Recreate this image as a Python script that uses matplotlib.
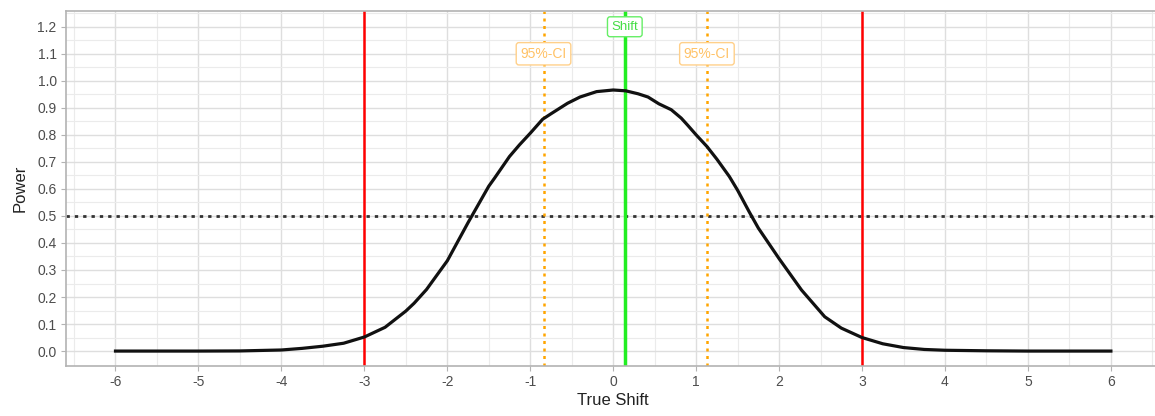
import matplotlib
matplotlib.use("Agg")
import matplotlib.pyplot as plt
import numpy as np

plt.rcParams['font.family'] = ['Liberation Sans', 'DejaVu Sans']
plt.rcParams['axes.unicode_minus'] = False

# power curve
true_shift = [-6.0, -5.5, -5.0, -4.5, -4.0, -3.75, -3.5, -3.25, -3.0, -2.75, -2.5, -2.4,
              -2.25, -2.0, -1.75, -1.5, -1.43, -1.25, -1.13, -1.0, -0.85, -0.75, -0.55,
              -0.4, -0.2, 0.0, 0.15, 0.3, 0.42, 0.55, 0.7, 0.82, 0.9, 1.0, 1.13, 1.25,
              1.4, 1.5, 1.64, 1.75, 2.0, 2.27, 2.55, 2.75, 3.0, 3.25, 3.5, 3.75, 4.0,
              4.5, 5.0, 5.5, 6.0]
power = [0.0, 0.0, 0.0, 0.0005, 0.004, 0.01, 0.018, 0.029, 0.052, 0.088, 0.148, 0.177,
         0.228, 0.334, 0.475, 0.61, 0.64, 0.72, 0.763, 0.806, 0.858, 0.878, 0.917,
         0.94, 0.96, 0.966, 0.963, 0.952, 0.94, 0.915, 0.893, 0.862, 0.835, 0.80, 0.757,
         0.71, 0.646, 0.595, 0.515, 0.455, 0.342, 0.226, 0.127, 0.085, 0.05, 0.027, 0.013,
         0.006, 0.003, 0.001, 0.0, 0.0, 0.0]

margin = [-3, 3]
shift = 0.14
ci = [-0.84, 1.13]
power_level = 0.5
x_ticks = list(range(-6, 7))
y_ticks = [0.0, 0.1, 0.2, 0.3, 0.4, 0.5, 0.6, 0.7, 0.8, 0.9, 1.0, 1.1, 1.2]

fig = plt.figure(figsize=(11.55, 4.16), dpi=100)
ax = fig.add_axes([0.0569, 0.121, 0.948, 0.853])

ax.set_xlim(-6.6, 6.6)
ax.set_ylim(-0.054, 1.259)
ax.set_xticks(x_ticks)
ax.set_xticks(np.arange(-6.5, 6.6, 1.0), minor=True)
ax.set_yticks(y_ticks)
ax.set_yticks(np.arange(0.05, 1.26, 0.1), minor=True)
ax.set_yticklabels([f"{v:.1f}" for v in y_ticks])
ax.grid(which='major', color='#DEDEDE', linewidth=1.0)
ax.grid(which='minor', color='#EBEBEB', linewidth=0.8)
ax.set_axisbelow(True)

for s in ['top', 'left', 'bottom']:
    ax.spines[s].set_color('#B3B3B3')
    ax.spines[s].set_linewidth(1.2)
ax.spines['right'].set_visible(False)
ax.tick_params(which='major', length=3.5, color='#B3B3B3', labelsize=10,
               labelcolor='#4D4D4D', pad=3)
ax.tick_params(which='minor', length=0)

ax.axhline(power_level, color='#333333', linestyle=(0, (1.2, 1.8)), linewidth=2)
for m in margin:
    ax.axvline(m, color='#FF0000', linewidth=1.8)
for c in ci:
    ax.axvline(c, color='#FFA500', linestyle=(0, (1.2, 1.8)), linewidth=1.8)
ax.axvline(shift, color='#22EE22', linewidth=2.5)

ax.plot(true_shift, power, color='#111111', linewidth=2.3, zorder=5)

ax.text(shift, 1.2, "Shift", ha='center', va='center', fontsize=9.5, color='#44DD44',
        bbox=dict(boxstyle='round,pad=0.3,rounding_size=0.2', fc='white', ec='#66EE66', lw=1),
        zorder=6)
for c in ci:
    ax.text(c, 1.1, "95%-CI", ha='center', va='center', fontsize=10, color='#FFC266',
            bbox=dict(boxstyle='round,pad=0.3,rounding_size=0.2', fc='white', ec='#FFD08A', lw=1),
            zorder=6)

ax.set_xlabel("True Shift", fontsize=12, color='#222222', labelpad=3)
ax.set_ylabel("Power", fontsize=12, color='#222222', labelpad=7)

fig.savefig("out.png", dpi=100)
